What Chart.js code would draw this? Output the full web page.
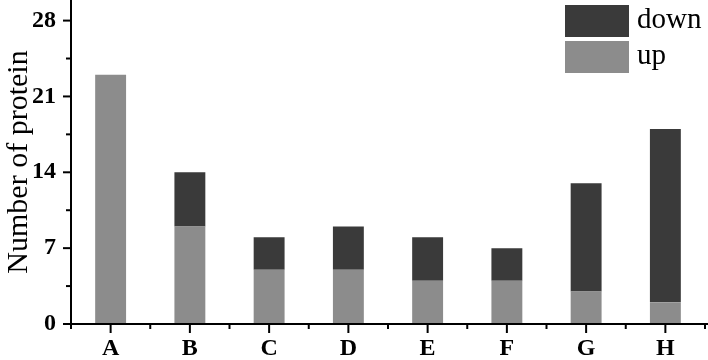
<!DOCTYPE html>
<html>
<head>
<meta charset="utf-8">
<script src="https://cdn.jsdelivr.net/npm/chart.js@4"></script>
<style>
html,body{margin:0;padding:0;background:#fff;}
#wrap{width:708px;height:360px;position:relative;}
</style>
</head>
<body>
<div id="wrap"><canvas id="c" width="708" height="360"></canvas></div>
<script>
const categories = ['A','B','C','D','E','F','G','H'];
const upValues = [23, 9, 5, 5, 4, 4, 3, 2];
const downValues = [0, 5, 3, 4, 4, 3, 10, 16];
const yTickValues = [0, 7, 14, 21, 28];
const yAxisTitle = 'Number of protein';
const seriesNames = ['up', 'down'];
const upColor = '#8c8c8c';
const downColor = '#3a3a3a';

const serif = '"Liberation Serif", "Times New Roman", serif';

const axesPlugin = {
  id: 'axesPlugin',
  afterDatasetsDraw(chart) {
    const ctx = chart.ctx;
    const x = chart.scales.x, y = chart.scales.y;
    const area = chart.chartArea;
    ctx.save();
    ctx.strokeStyle = '#000';
    ctx.lineWidth = 2;
    ctx.lineCap = 'butt';
    ctx.beginPath();
    ctx.moveTo(area.left, 0);
    ctx.lineTo(area.left, area.bottom + 1);
    ctx.stroke();
    ctx.beginPath();
    ctx.moveTo(area.left - 1, area.bottom);
    ctx.lineTo(chart.width, area.bottom);
    ctx.stroke();
    yTickValues.forEach(v => {
      const py = y.getPixelForValue(v);
      ctx.beginPath(); ctx.moveTo(area.left - 8, py); ctx.lineTo(area.left, py); ctx.stroke();
    });
    for (let i = 0; i < yTickValues.length - 1; i++) {
      const v = (yTickValues[i] + yTickValues[i + 1]) / 2;
      const py = y.getPixelForValue(v);
      ctx.beginPath(); ctx.moveTo(area.left - 5, py); ctx.lineTo(area.left, py); ctx.stroke();
    }
    categories.forEach((c, i) => {
      const px = x.getPixelForValue(i);
      ctx.beginPath(); ctx.moveTo(px, area.bottom); ctx.lineTo(px, area.bottom + 9); ctx.stroke();
    });
    for (let i = 0; i <= categories.length; i++) {
      const px = x.getPixelForValue(i - 0.5);
      ctx.beginPath(); ctx.moveTo(px, area.bottom); ctx.lineTo(px, area.bottom + 5); ctx.stroke();
    }
    ctx.restore();
  },
  afterDraw(chart) {
    const ctx = chart.ctx;
    const ds = chart.data.datasets.slice().reverse();
    ctx.save();
    ctx.font = '29px ' + serif;
    ctx.textBaseline = 'middle';
    ctx.textAlign = 'left';
    const boxX = 565, boxW = 64, boxH = 32, startY = 5, gap = 4;
    ds.forEach((d, i) => {
      const by = startY + i * (boxH + gap);
      ctx.fillStyle = d.backgroundColor;
      ctx.fillRect(boxX, by, boxW, boxH);
      ctx.fillStyle = '#000';
      ctx.fillText(d.label, boxX + boxW + 8, by + boxH / 2 - 1);
    });
    ctx.restore();
  }
};

new Chart(document.getElementById('c'), {
  type: 'bar',
  data: {
    labels: categories,
    datasets: [
      { label: seriesNames[0], data: upValues, backgroundColor: upColor, borderWidth: 0 },
      { label: seriesNames[1], data: downValues, backgroundColor: downColor, borderWidth: 0 }
    ]
  },
  options: {
    responsive: false,
    animation: false,
    layout: { padding: { top: 0, right: 3, left: 0, bottom: 0 } },
    plugins: { legend: { display: false }, tooltip: { enabled: false } },
    datasets: { bar: { barPercentage: 0.39, categoryPercentage: 1 } },
    scales: {
      x: {
        stacked: true,
        grid: { display: false, drawTicks: false },
        border: { display: false },
        ticks: { color: '#000', font: { family: serif, size: 24, weight: 'bold' }, padding: 10, maxRotation: 0 },
        afterFit(s) { s.height = 36; s.paddingLeft = 0; s.paddingRight = 0; }
      },
      y: {
        stacked: true,
        min: 0,
        max: 29.9,
        grid: { display: false, drawTicks: false },
        border: { display: false },
        afterBuildTicks(s) { s.ticks = yTickValues.map(v => ({ value: v })); },
        ticks: { color: '#000', font: { family: serif, size: 24, weight: 'bold' }, padding: 15 },
        title: { display: true, text: yAxisTitle, color: '#000', font: { family: serif, size: 30 }, padding: { top: 1, bottom: 0 } },
        afterFit(s) { s.width = 71; s.paddingTop = 0; s.paddingBottom = 0; }
      }
    }
  },
  plugins: [axesPlugin]
});
</script>
</body>
</html>
